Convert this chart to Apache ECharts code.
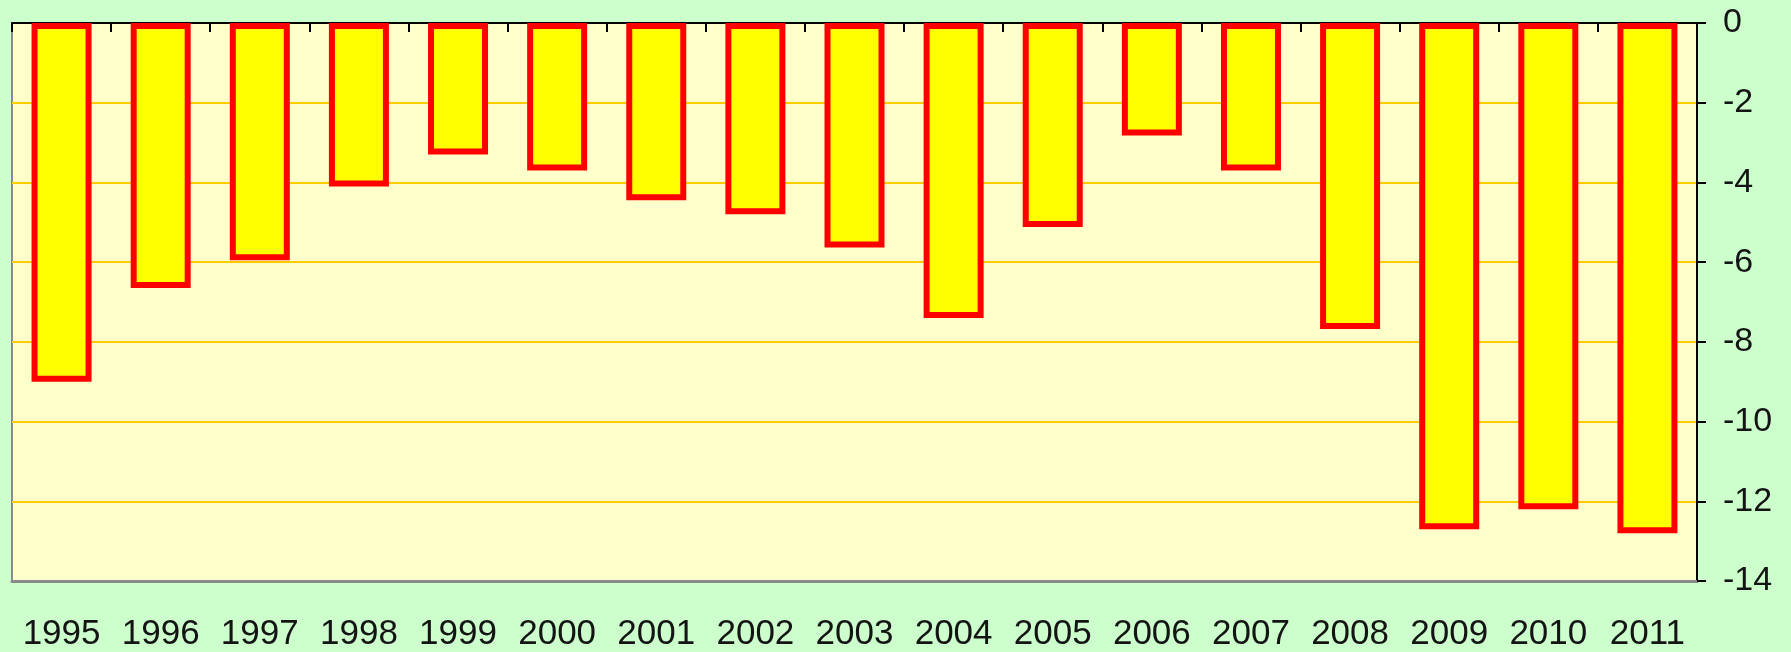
<!DOCTYPE html>
<html>
<head>
<meta charset="utf-8">
<title>Annual balance 1995–2011</title>
<script src="https://cdn.jsdelivr.net/npm/echarts@6/dist/echarts.min.js"></script>
<style>
  html, body { margin: 0; padding: 0; background: #CCFFCC; }
  #chart { width: 1791px; height: 652px; }
</style>
</head>
<body>
<div id="chart"></div>
<script>
// Years along the category axis
const years = ['1995', '1996', '1997', '1998', '1999', '2000', '2001', '2002', '2003',
               '2004', '2005', '2006', '2007', '2008', '2009', '2010', '2011'];

// Yearly values (all negative, bars hang down from zero)
const values = [-9.0, -6.65, -5.95, -4.1, -3.3, -3.7, -4.45, -4.8, -5.63,
                -7.4, -5.12, -2.82, -3.7, -7.68, -12.7, -12.2, -12.8];

// Value axis range and step
const yMin = -14;
const yMax = 0;
const yStep = 2;

const FONT = '"Liberation Sans", Arial, sans-serif';
const TEXT = '#141414';

const chart = echarts.init(document.getElementById('chart'), null, { renderer: 'canvas' });

chart.setOption({
  backgroundColor: '#CCFFCC',
  animation: false,
  grid: {
    left: 12,
    right: 94,
    top: 23,
    bottom: 71,
    show: true,
    backgroundColor: '#FFFFCC',
    borderColor: '#8a8a8a',
    borderWidth: 2
  },
  xAxis: [
    {
      // top edge: black line with tick marks between years
      type: 'category',
      data: years,
      position: 'top',
      boundaryGap: true,
      axisLine: { show: true, onZero: false, lineStyle: { color: '#000', width: 2 } },
      axisTick: { show: true, inside: true, length: 9, interval: 0, alignWithLabel: false,
                  lineStyle: { color: '#000', width: 2 } },
      axisLabel: { show: false },
      splitLine: { show: false }
    },
    {
      // bottom edge: year labels
      type: 'category',
      data: years,
      position: 'bottom',
      boundaryGap: true,
      axisLine: { show: true, onZero: false, lineStyle: { color: '#8a8a8a', width: 3 } },
      axisTick: { show: false },
      axisLabel: {
        show: true,
        interval: 0,
        hideOverlap: false,
        margin: 36,
        fontSize: 35,
        fontFamily: FONT,
        color: TEXT
      },
      splitLine: { show: false }
    }
  ],
  yAxis: {
    type: 'value',
    position: 'right',
    min: yMin,
    max: yMax,
    interval: yStep,
    axisLine: { show: true, lineStyle: { color: '#000', width: 2 } },
    axisTick: { show: true, inside: false, length: 9, lineStyle: { color: '#000', width: 2 } },
    axisLabel: {
      margin: 26,
      fontSize: 34,
      fontFamily: FONT,
      color: TEXT,
      align: 'left'
    },
    splitLine: {
      show: true,
      showMinLine: false,
      showMaxLine: false,
      lineStyle: { color: '#FFCC00', width: 2 }
    }
  },
  series: [
    {
      type: 'bar',
      xAxisIndex: 0,
      data: values,
      barWidth: 60,
      itemStyle: {
        color: '#FFFF00',
        borderColor: '#FF0000',
        borderWidth: 6
      }
    }
  ]
});
</script>
</body>
</html>
